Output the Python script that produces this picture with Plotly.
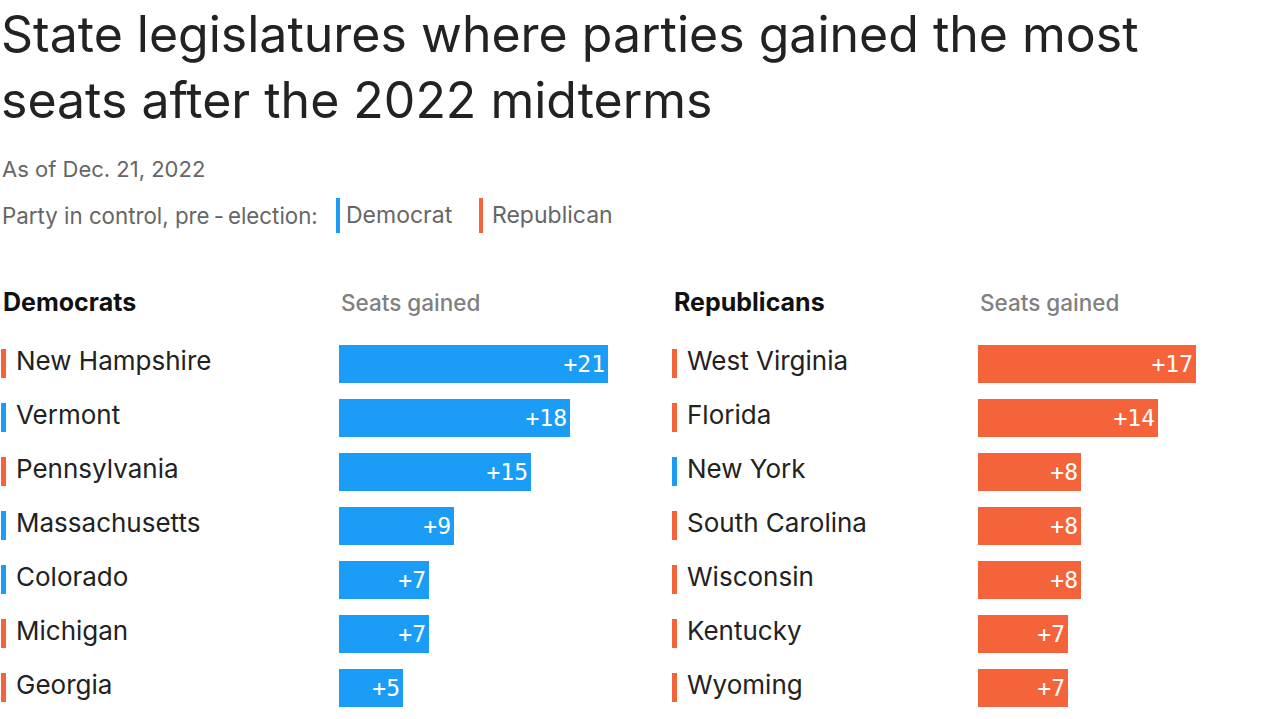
import plotly.graph_objects as go

# ---- data ----
dem_states = ["New Hampshire", "Vermont", "Pennsylvania", "Massachusetts", "Colorado", "Michigan", "Georgia"]
dem_seats = [21, 18, 15, 9, 7, 7, 5]
dem_control = ["R", "D", "R", "D", "D", "R", "R"]

rep_states = ["West Virginia", "Florida", "New York", "South Carolina", "Wisconsin", "Kentucky", "Wyoming"]
rep_seats = [17, 14, 8, 8, 8, 7, 7]
rep_control = ["R", "R", "D", "R", "R", "R", "R"]

BLUE = "#1b9cf6"
ORANGE = "#f5633b"
W, H = 1280, 719
FONT = "Inter"

def px(x):
    return x / W

def py(y):
    return 1 - y / H

ctrl_color = {"D": BLUE, "R": ORANGE}

# row geometry (pixels): first row center 363.5, spacing 54
row0, step = 363.5, 54
top_px = row0 - step / 2
bot_px = row0 + step * 6.5
ydom = [py(bot_px), py(top_px)]

scale = 12.83  # px per seat
dem_x0 = 339
rep_x0 = 978
xmax = 24

fig = go.Figure()
for xs, ys, col, xa, ya in [(dem_seats, dem_states, BLUE, "x", "y"), (rep_seats, rep_states, ORANGE, "x2", "y2")]:
    fig.add_trace(go.Bar(
        x=xs, y=ys, orientation="h", marker=dict(color=col, line=dict(width=0)),
        width=0.72, texttemplate="+%{x}", textposition="inside", insidetextanchor="end",
        textfont=dict(family="DejaVu Sans Mono", size=23, color="white"),
        xaxis=xa, yaxis=ya, showlegend=False, hoverinfo="skip",
    ))

axis_common = dict(showgrid=False, zeroline=False, showline=False, showticklabels=False, ticks="")
fig.update_layout(
    width=W, height=H,
    margin=dict(l=0, r=0, t=0, b=0),
    paper_bgcolor="white", plot_bgcolor="white",
    bargap=0,
    uniformtext=dict(minsize=23, mode="show"),
    xaxis=dict(domain=[px(dem_x0), px(dem_x0 + scale * xmax)], range=[0, xmax], **axis_common),
    xaxis2=dict(domain=[px(rep_x0), px(rep_x0 + scale * 22.8)], range=[0, 22.8], **axis_common),
    yaxis=dict(domain=ydom, range=[6.5, -0.5], type="category", anchor="x", **axis_common),
    yaxis2=dict(domain=ydom, range=[6.5, -0.5], type="category", anchor="x2", **axis_common),
    font=dict(family=FONT),
)

ann = []
shapes = []

def text_ann(text, x, y, size, color, weight=None):
    f = dict(family=FONT, size=size, color=color)
    if weight:
        f["weight"] = weight
    return dict(text=text, x=px(x), y=py(y), xref="paper", yref="paper", xanchor="left",
                yanchor="middle", showarrow=False, font=f)

# title
ann.append(text_ann("State legislatures where parties gained the most", -1, 34, 50, "#222222"))
ann.append(text_ann("seats after the 2022 midterms", -1, 100, 50, "#222222"))
# subtitle + legend
ann.append(text_ann("As of Dec. 21, 2022", 0, 169, 22, "#666666"))
ann.append(text_ann("Party in control, pre\u2009-\u2009election:", 0, 215, 22.3, "#666666"))
ann.append(text_ann("Democrat", 344, 215, 23, "#666666"))
ann.append(text_ann("Republican", 490, 215, 23, "#666666"))
shapes.append(dict(type="rect", xref="paper", yref="paper", x0=px(336), x1=px(340), y0=py(233), y1=py(198),
                   fillcolor=BLUE, line=dict(width=0)))
shapes.append(dict(type="rect", xref="paper", yref="paper", x0=px(479), x1=px(483), y0=py(233), y1=py(198),
                   fillcolor=ORANGE, line=dict(width=0)))

# panel headers
ann.append(text_ann("Democrats", 1, 302, 25, "#111111", "bold"))
ann.append(text_ann("Republicans", 672, 302, 25, "#111111", "bold"))
ann.append(text_ann("Seats gained", 339, 303, 22.5, "#808080", 500))
ann.append(text_ann("Seats gained", 978, 303, 22.5, "#808080", 500))

# state labels with control markers
for states, ctrl, lx, mx, yref in [(dem_states, dem_control, 14, 1, "y"), (rep_states, rep_control, 685, 672, "y2")]:
    for i, (s, c) in enumerate(zip(states, ctrl)):
        ann.append(dict(text=s, x=px(lx), y=s, xref="paper", yref=yref, xanchor="left", yanchor="middle",
                        yshift=3, showarrow=False, font=dict(family=FONT, size=26, color="#222222")))
        shapes.append(dict(type="rect", xref="paper", yref=yref, x0=px(mx), x1=px(mx + 5),
                           y0=i - 0.27, y1=i + 0.27, fillcolor=ctrl_color[c], line=dict(width=0)))

fig.update_layout(annotations=ann, shapes=shapes)
fig.write_html("out.html")
